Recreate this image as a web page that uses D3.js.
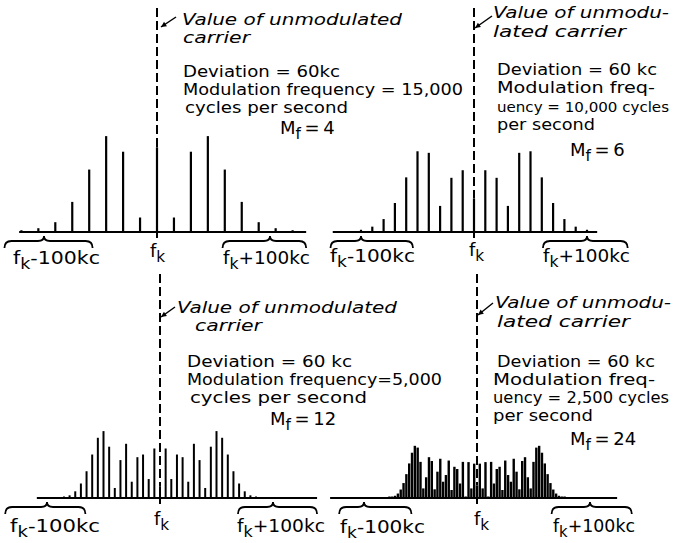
<!DOCTYPE html>
<html><head><meta charset="utf-8">
<script src="https://cdn.jsdelivr.net/npm/d3@7"></script>
<style>
body{margin:0;background:#fff}
svg{display:block}
text{font-family:"DejaVu Sans",sans-serif;fill:#000}
</style>
</head><body>
<svg id="c" width="676" height="543"></svg>
<script>
// Relative sideband amplitudes, index 0 = carrier, 1..N = n-th sideband pair
const ampMf4  = [0.38, 0.065, 0.36, 0.43, 0.28, 0.135, 0.044, 0.017, 0.008];
const ampMf6  = [0.15, 0.277, 0.243, 0.117, 0.355, 0.362, 0.245, 0.13, 0.058, 0.024, 0.01];
const ampMf12 = [0.05, 0.222, 0.085, 0.195, 0.183, 0.073, 0.243, 0.17, 0.045, 0.23, 0.30, 0.27, 0.195, 0.12, 0.065, 0.03, 0.012, 0.005];
const ampMf24 = [0.056, 0.154, 0.043, 0.161, 0.006, 0.162, 0.065, 0.13, 0.14, 0.036, 0.168, 0.103, 0.073, 0.176, 0.118, 0.039, 0.166, 0.183, 0.093, 0.043, 0.162, 0.226, 0.234, 0.203, 0.155, 0.107, 0.067, 0.038, 0.02, 0.01, 0.004, 0.002];
// modulation frequency (kc) = sideband spacing
const modFreqKc = [15, 10, 5, 2.5];
const mfLabels = ["4", "6", "12", "24"];
const bandLabel = "100kc";

const svg = d3.select("#c");
const PXKC = 1.13, PXAMP = 223;

const panels = [
  {amps: ampMf4, fm: modFreqKc[0], mf: mfLabels[0], cx: 157, base: 232, span: [-122, 132], dashTop: 8, bw: 2.2,
   braceL: [-135, -57], braceR: [58, 132],
   arrow: [176, 17, 161, 27],
   lines: [
     {t: "Value of unmodulated", x: 182, y: 25, w: 220, it: true},
     {t: "carrier", x: 183, y: 43, w: 67, it: true},
     {t: "Deviation = 60kc", x: 183, y: 77, w: 157},
     {t: "Modulation frequency = 15,000", x: 183, y: 95, w: 280},
     {t: "cycles per second", x: 185, y: 113, w: 163}],
   mfPos: [280, 134],
   lab: {l: [13, 264, 87], c: [150, 257], r: [223, 264, 87]}},
  {amps: ampMf6, fm: modFreqKc[1], mf: mfLabels[1], cx: 474, base: 232, span: [-125, 109], dashTop: 8, bw: 2.2,
   braceL: [-127, -54], braceR: [61, 136],
   arrow: [492, 16, 475, 28],
   lines: [
     {t: "Value of unmodu-", x: 493, y: 18, w: 176, it: true},
     {t: "lated carrier", x: 493, y: 37, w: 133, it: true},
     {t: "Deviation = 60 kc", x: 497, y: 75, w: 160},
     {t: "Modulation freq-", x: 497, y: 93, w: 158},
     {t: "uency = 10,000 cycles", x: 497, y: 112, w: 172, fs: 14.5},
     {t: "per second", x: 497, y: 130, w: 98}],
   mfPos: [570, 156],
   lab: {l: [330, 262, 85], c: [469, 256], r: [543, 262, 87]}},
  {amps: ampMf12, fm: modFreqKc[2], mf: mfLabels[2], cx: 160, base: 498, span: [-109, 139], dashTop: 274, bw: 2,
   braceL: [-137, -66], braceR: [69, 139],
   arrow: [175, 307, 161, 317],
   lines: [
     {t: "Value of unmodulated", x: 177, y: 313, w: 220, it: true},
     {t: "carrier", x: 195, y: 331, w: 67, it: true},
     {t: "Deviation = 60 kc", x: 187, y: 367, w: 165},
     {t: "Modulation frequency=5,000", x: 187, y: 385, w: 255},
     {t: "cycles per second", x: 190, y: 403, w: 177}],
   mfPos: [270, 425],
   lab: {l: [10, 532, 90], c: [154, 525], r: [237, 532, 88]}},
  {amps: ampMf24, fm: modFreqKc[3], mf: mfLabels[3], cx: 477, base: 498, span: [-130, 124], dashTop: 274, bw: 2.4,
   braceL: [-122, -58], braceR: [66, 137],
   arrow: [493, 303, 478, 315],
   lines: [
     {t: "Value of unmodu-", x: 495, y: 308, w: 176, it: true},
     {t: "lated carrier", x: 497, y: 327, w: 133, it: true},
     {t: "Deviation = 60 kc", x: 497, y: 367, w: 158},
     {t: "Modulation freq-", x: 493, y: 385, w: 162},
     {t: "uency = 2,500 cycles", x: 493, y: 403, w: 176},
     {t: "per second", x: 493, y: 421, w: 100}],
   mfPos: [570, 445],
   lab: {l: [340, 533, 85], c: [474, 525], r: [553, 532, 82]}}
];

function bracePath(xl, xr, xp, yh) {
  return `M${xl},${yh+7} Q${xl},${yh} ${xl+7},${yh} L${xp-6},${yh} Q${xp},${yh} ${xp},${yh-5} Q${xp},${yh} ${xp+6},${yh} L${xr-7},${yh} Q${xr},${yh} ${xr},${yh+7}`;
}

function subText(g, x, y, parts, size, w) {
  const t = g.append("text").attr("x", x).attr("y", y).attr("font-size", size);
  let shifted = false;
  parts.forEach(p => {
    const ts = t.append("tspan").text(p.s);
    if (p.sub && !shifted) { ts.attr("dy", 5).attr("font-size", size * 0.85); shifted = true; }
    else if (!p.sub && shifted) { ts.attr("dy", -5); shifted = false; }
  });
  if (w) t.attr("textLength", w).attr("lengthAdjust", "spacingAndGlyphs");
  return t;
}

panels.forEach(p => {
  const g = svg.append("g");
  const x = d3.scaleLinear().domain([-100, 100]).range([p.cx - 100 * PXKC, p.cx + 100 * PXKC]);
  const y = d3.scaleLinear().domain([0, 1]).range([p.base, p.base - PXAMP]);

  // spectral lines
  const N = p.amps.length - 1;
  const lines = [];
  for (let n = -N; n <= N; n++) lines.push({f: n * p.fm, a: p.amps[Math.abs(n)]});
  g.selectAll("line.bar").data(lines).join("line")
    .attr("x1", d => x(d.f)).attr("x2", d => x(d.f))
    .attr("y1", y(0)).attr("y2", d => Math.min(y(d.a), y(0) - 1.5))
    .attr("stroke", "#000").attr("stroke-width", p.bw);

  // baseline
  g.append("line").attr("x1", x(p.span[0])).attr("x2", x(p.span[1]))
    .attr("y1", y(0)).attr("y2", y(0)).attr("stroke", "#000").attr("stroke-width", 2);

  // carrier reference: dashed line + tick below
  g.append("line").attr("x1", x(0)).attr("x2", x(0))
    .attr("y1", p.dashTop).attr("y2", y(p.amps[0]))
    .attr("stroke", "#000").attr("stroke-width", 2).attr("stroke-dasharray", "9,4");
  g.append("line").attr("x1", x(0)).attr("x2", x(0))
    .attr("y1", y(0)).attr("y2", y(0) + 6).attr("stroke", "#000").attr("stroke-width", 2);

  // braces at fk -/+ 100 kc
  const yh = p.base + 9;
  g.append("path").attr("d", bracePath(x(p.braceL[0]), x(p.braceL[1]), x(-100), yh))
    .attr("fill", "none").attr("stroke", "#000").attr("stroke-width", 1.8);
  g.append("path").attr("d", bracePath(x(p.braceR[0]), x(p.braceR[1]), x(100), yh))
    .attr("fill", "none").attr("stroke", "#000").attr("stroke-width", 1.8);

  // labels
  subText(g, p.lab.l[0], p.lab.l[1], [{s: "f"}, {s: "k", sub: true}, {s: "-" + bandLabel}], 18, p.lab.l[2]);
  subText(g, p.lab.c[0], p.lab.c[1], [{s: "f"}, {s: "k", sub: true}], 18);
  subText(g, p.lab.r[0], p.lab.r[1], [{s: "f"}, {s: "k", sub: true}, {s: "+" + bandLabel}], 18, p.lab.r[2]);

  // arrow to carrier line
  const [ax1, ay1, ax2, ay2] = p.arrow;
  g.append("line").attr("x1", ax1).attr("y1", ay1).attr("x2", ax2).attr("y2", ay2)
    .attr("stroke", "#000").attr("stroke-width", 1.5);
  const ang = Math.atan2(ay2 - ay1, ax2 - ax1);
  const hl = 6, hw = 0.45;
  g.append("path").attr("d",
    `M${ax2},${ay2} L${ax2 - hl * Math.cos(ang - hw)},${ay2 - hl * Math.sin(ang - hw)} L${ax2 - hl * Math.cos(ang + hw)},${ay2 - hl * Math.sin(ang + hw)} Z`)
    .attr("fill", "#000");

  // description text
  p.lines.forEach(l => {
    g.append("text").attr("x", l.x).attr("y", l.y)
      .attr("font-size", l.fs || 16).attr("font-style", l.it ? "italic" : "normal")
      .attr("textLength", l.w).attr("lengthAdjust", "spacingAndGlyphs")
      .text(l.t);
  });
  subText(g, p.mfPos[0], p.mfPos[1], [{s: "M"}, {s: "f", sub: true}, {s: "\u2009=\u2009" + p.mf}], 18);
});
</script>
</body></html>
